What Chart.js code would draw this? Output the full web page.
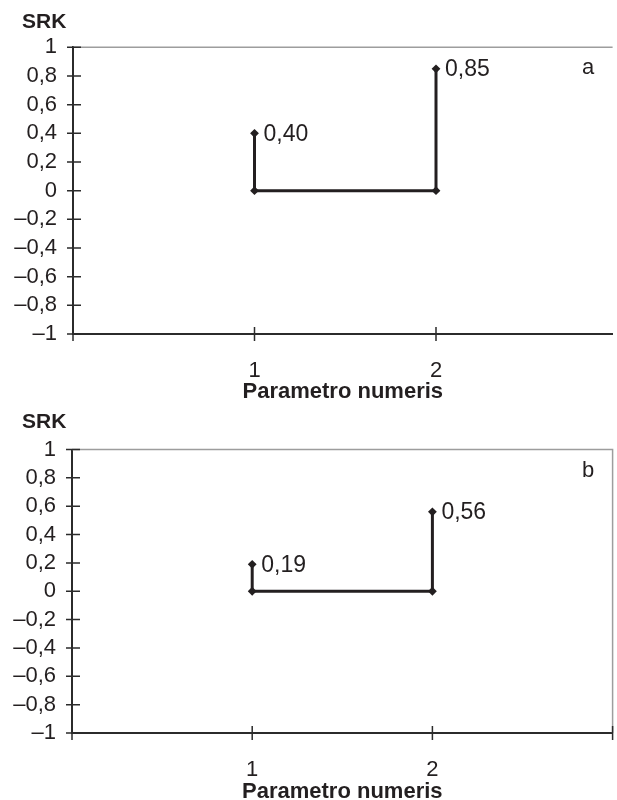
<!DOCTYPE html>
<html>
<head>
<meta charset="utf-8">
<script src="https://cdn.jsdelivr.net/npm/chart.js@4.4.1/dist/chart.umd.min.js"></script>
<style>
  html, body { margin: 0; padding: 0; background: #fff; overflow: hidden; }
  body { width: 617px; height: 800px; position: relative; }
  .wrap { position: absolute; left: 0; width: 617px; }
  #wa { top: 0; height: 408px; }
  #wb { top: 400px; height: 407px; }
</style>
</head>
<body>
<div class="wrap" id="wa"><canvas id="ca"></canvas></div>
<div class="wrap" id="wb"><canvas id="cb"></canvas></div>
<script>
// ---- data ----
const params = [1, 2];                 // Parametro numeris
const srkA = [0.40, 0.85];             // panel a
const srkB = [0.19, 0.56];             // panel b
const yTicks = [-1, -0.8, -0.6, -0.4, -0.2, 0, 0.2, 0.4, 0.6, 0.8, 1];
const xTickMarks = [0, 1, 2, 3];
const panelLetters = ['a', 'b'];
const yTitle = 'SRK';
const xTitle = 'Parametro numeris';

const FONT = '"Liberation Sans", Arial, Helvetica, sans-serif';
const INK = '#231f20';

function fmt(v) {
  const r = Math.round(v * 100) / 100;
  if (r === 0) return '0';
  let s = Number.isInteger(r) ? String(Math.abs(r)) : Math.abs(r).toFixed(1);
  s = s.replace('.', ',');
  return (r < 0 ? '\u2013' : '') + s;
}
function fmt2(v) { return v.toFixed(2).replace('.', ','); }

function stepPoints(vals) {
  return [
    {x: params[0], y: vals[0]},
    {x: params[0], y: 0},
    {x: params[1], y: 0},
    {x: params[1], y: vals[1]}
  ];
}

const decoPlugin = {
  id: 'deco',
  afterDraw(chart, args, opts) {
    const ctx = chart.ctx;
    const ca = chart.chartArea;
    const xs = chart.scales.x, ys = chart.scales.y;
    ctx.save();
    // top frame line (and right for panel b)
    ctx.strokeStyle = '#9d9d9d';
    ctx.lineWidth = 1.5;
    ctx.beginPath();
    ctx.moveTo(ca.left, ca.top);
    ctx.lineTo(ca.right, ca.top);
    if (opts.rightBorder) ctx.lineTo(ca.right, ca.bottom);
    ctx.stroke();
    // crossing tick marks
    ctx.strokeStyle = '#2b2b2b';
    ctx.lineWidth = 1.5;
    ctx.beginPath();
    yTicks.forEach(v => {
      const py = ys.getPixelForValue(v);
      ctx.moveTo(ca.left - 6, py);
      ctx.lineTo(ca.left + 8, py);
    });
    xTickMarks.forEach(v => {
      if (v > xs.max + 1e-6) return;
      const px = xs.getPixelForValue(v);
      ctx.moveTo(px, ca.bottom - 7);
      ctx.lineTo(px, ca.bottom + 7);
    });
    ctx.stroke();
    // y title
    ctx.fillStyle = INK;
    ctx.font = 'bold 21px ' + FONT;
    ctx.textAlign = 'left';
    ctx.textBaseline = 'alphabetic';
    ctx.fillText(yTitle, 22, opts.titleY);
    // panel letter
    ctx.font = '22px ' + FONT;
    ctx.textAlign = 'center';
    ctx.textBaseline = 'middle';
    ctx.fillText(opts.letter, 588, ca.top + 21);
    // value labels
    const meta = chart.getDatasetMeta(0);
    const vals = chart.data.datasets[0].labelsVals;
    ctx.font = '23px ' + FONT;
    ctx.textAlign = 'left';
    [[0, vals[0]], [3, vals[1]]].forEach(([i, v]) => {
      const el = meta.data[i];
      ctx.fillText(fmt2(v), el.x + 9, el.y + 1);
    });
    ctx.restore();
  }
};

function makeChart(id, vals, o) {
  return new Chart(document.getElementById(id), {
    type: 'scatter',
    data: {
      datasets: [{
        data: stepPoints(vals),
        labelsVals: vals,
        showLine: true,
        borderColor: INK,
        backgroundColor: INK,
        borderWidth: 3,
        pointStyle: 'rectRot',
        pointRadius: 4.4,
        pointHoverRadius: 4.4,
        pointBorderWidth: 0,
        tension: 0
      }]
    },
    options: {
      responsive: true,
      maintainAspectRatio: false,
      animation: false,
      events: [],
      layout: { padding: { top: o.top, left: 0, right: o.right, bottom: 0 } },
      plugins: {
        legend: { display: false },
        tooltip: { enabled: false },
        deco: { letter: o.letter, rightBorder: o.rightBorder, titleY: o.titleY }
      },
      scales: {
        x: {
          type: 'linear',
          min: 0,
          max: o.xmax,
          afterBuildTicks: s => { s.ticks = params.map(v => ({value: v})); },
          afterFit: s => { s.height = o.xh; },
          grid: { display: false, drawTicks: false },
          border: { display: true, color: '#2b2b2b', width: 2 },
          ticks: {
            padding: o.xpad,
            color: INK,
            font: { family: FONT, size: 22 },
            callback: v => String(v),
            maxRotation: 0, autoSkip: false
          },
          title: {
            display: true,
            text: xTitle,
            color: INK,
            font: { family: FONT, size: 22, weight: 'bold' },
            padding: { top: 0, bottom: o.tpad }
          }
        },
        y: {
          type: 'linear',
          min: -1,
          max: 1,
          afterBuildTicks: s => { s.ticks = yTicks.map(v => ({value: v})); },
          afterFit: s => { s.width = o.yw; },
          grid: { display: false, drawTicks: false },
          border: { display: true, color: '#2b2b2b', width: 2 },
          ticks: {
            padding: 16,
            color: INK,
            font: { family: FONT, size: 22 },
            callback: v => fmt(v),
            autoSkip: false
          }
        }
      }
    },
    plugins: [decoPlugin]
  });
}

makeChart('ca', srkA, { top: 47.3, right: 0, xmax: 2.973, xh: 74, yw: 73, xpad: 24, tpad: 2.5, letter: panelLetters[0], rightBorder: false, titleY: 28 });
makeChart('cb', srkB, { top: 49.5, right: 2, xmax: 3, xh: 74, yw: 72, xpad: 24, tpad: 2.2, letter: panelLetters[1], rightBorder: true, titleY: 28 });
</script>
</body>
</html>
